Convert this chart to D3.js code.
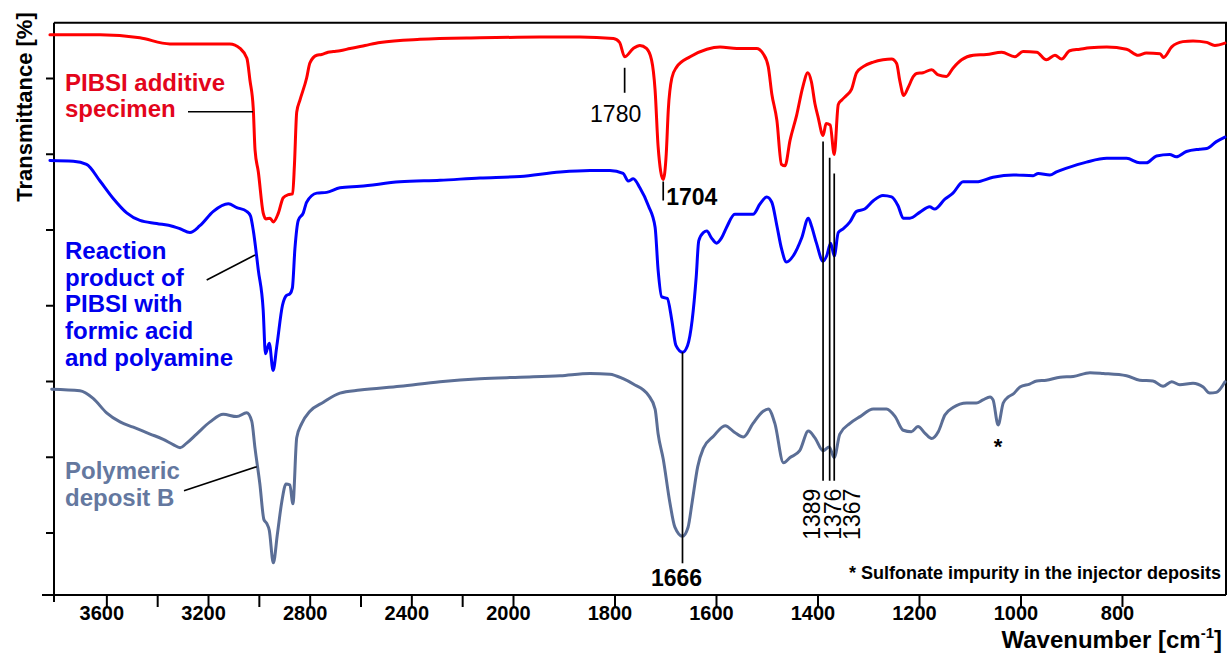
<!DOCTYPE html>
<html>
<head>
<meta charset="utf-8">
<title>FTIR spectra – PIBSI additive, reaction product, polymeric deposit B</title>
<script src="https://cdn.jsdelivr.net/npm/d3@7"></script>
<style>
  html, body { margin: 0; padding: 0; background: #ffffff; }
  svg { display: block; font-family: "Liberation Sans", Arial, Helvetica, sans-serif; }
</style>
</head>
<body>
<svg id="chart" width="1228" height="657"></svg>
<script>
// ---- Spectra: [wavenumber cm-1, transmittance (stacked, offset scale)] ----
const pibsiSpectrum = [
  [3822,65.7],[3625,65.7],[3468,65.3],[3350,64.5],[3232,64.5],[3114,64.5],[3074,63.9],[3047,62.6],
  [3035,59.7],[3022,56.0],[3015,50.5],[3002,47.6],[2983,42.2],[2972,41.4],[2956,41.5],[2943,41.0],
  [2924,42.1],[2904,44.2],[2884,44.6],[2867,44.7],[2860,48.5],[2851,55.5],[2838,57.1],[2812,60.0],
  [2799,62.0],[2772,63.0],[2753,63.1],[2728,63.4],[2707,63.5],[2681,63.6],[2641,63.9],[2582,64.3],
  [2523,64.7],[2366,65.1],[2130,65.3],[1947,65.4],[1868,65.4],[1802,65.2],[1790,64.7],[1780,62.8],
  [1763,63.9],[1750,64.3],[1737,63.9],[1727,62.4],[1720,58.4],[1714,50.9],[1704,46.6],[1698,50.0],
  [1694,55.8],[1687,60.0],[1678,61.4],[1651,62.8],[1618,63.8],[1592,64.1],[1559,63.9],[1520,63.9],
  [1507,63.2],[1497,61.5],[1490,57.9],[1480,54.4],[1471,48.6],[1464,48.4],[1454,51.8],[1441,55.1],
  [1429,58.8],[1419,60.7],[1412,59.5],[1405,56.6],[1399,54.9],[1389,52.4],[1383,54.0],[1375,53.8],
  [1367,49.9],[1359,56.5],[1352,57.1],[1343,57.7],[1333,58.5],[1323,60.7],[1310,61.5],[1290,62.1],
  [1271,62.4],[1254,62.5],[1244,61.9],[1238,59.7],[1230,57.7],[1221,58.8],[1211,60.2],[1205,60.6],
  [1192,60.7],[1175,61.1],[1162,60.4],[1146,60.2],[1133,61.3],[1116,62.4],[1093,63.0],[1067,63.1],
  [1037,63.4],[1011,62.8],[995,63.5],[968,63.4],[949,62.4],[932,63.0],[919,62.5],[903,63.6],
  [883,63.8],[863,64.0],[830,64.1],[791,63.8],[768,63.0],[752,63.3],[725,63.2],[718,62.7],
  [702,64.1],[680,64.8],[660,64.9],[633,64.7],[617,64.3],[597,64.6]
];

const productSpectrum = [
  [3822,49.1],[3730,49.0],[3678,48.6],[3625,46.4],[3573,44.1],[3520,42.2],[3468,41.2],[3402,40.8],
  [3337,40.4],[3310,40.1],[3271,39.6],[3232,40.5],[3179,42.4],[3120,43.4],[3087,42.9],[3048,42.4],
  [3033,41.8],[3022,39.9],[3002,34.6],[2983,29.4],[2974,23.6],[2959,25.0],[2944,21.4],[2929,24.7],
  [2907,30.0],[2891,31.3],[2878,31.5],[2868,32.3],[2858,37.5],[2845,41.2],[2825,42.2],[2812,43.6],
  [2772,44.8],[2733,44.9],[2681,45.5],[2602,45.7],[2445,46.3],[2287,46.5],[2130,46.8],[1986,47.0],
  [1907,47.6],[1848,47.8],[1809,47.8],[1783,47.4],[1773,46.4],[1763,46.7],[1750,45.5],[1733,43.1],
  [1720,40.3],[1714,34.6],[1707,31.1],[1696,30.9],[1687,28.0],[1679,24.7],[1666,23.8],[1656,24.7],
  [1647,28.0],[1639,33.7],[1634,38.5],[1625,39.6],[1618,39.8],[1609,38.9],[1599,38.2],[1589,38.9],
  [1579,40.3],[1563,42.0],[1540,42.0],[1527,42.0],[1513,43.4],[1500,44.3],[1490,43.6],[1480,40.5],
  [1471,37.5],[1461,35.7],[1448,36.5],[1431,38.9],[1418,41.5],[1412,40.5],[1402,38.2],[1389,35.8],
  [1382,36.5],[1374,38.2],[1367,36.5],[1359,39.6],[1349,40.1],[1336,41.0],[1323,42.4],[1307,42.7],
  [1290,43.8],[1271,44.5],[1254,44.3],[1241,43.1],[1231,41.5],[1218,41.5],[1198,42.3],[1179,43.0],
  [1169,42.7],[1149,44.0],[1133,44.8],[1113,46.3],[1087,46.3],[1054,46.9],[1014,47.2],[975,47.1],
  [965,47.4],[942,47.2],[929,47.6],[909,48.1],[870,48.9],[830,49.4],[791,49.4],[765,48.8],
  [752,48.8],[732,49.7],[706,49.9],[693,49.6],[673,50.3],[647,50.6],[633,50.7],[614,51.6],[597,52.2]
];

const depositSpectrum = [
  [3815,18.9],[3704,18.7],[3652,17.7],[3599,15.8],[3546,14.6],[3494,13.9],[3428,13.0],[3376,12.3],
  [3337,11.6],[3310,11.2],[3284,11.8],[3245,13.0],[3192,14.6],[3140,15.6],[3087,15.3],[3048,15.8],
  [3028,14.7],[3015,11.1],[2996,6.4],[2980,1.7],[2969,1.2],[2959,0.3],[2943,-4.0],[2927,-0.2],
  [2910,4.0],[2893,6.4],[2878,6.3],[2866,3.8],[2851,12.5],[2831,14.4],[2799,16.0],[2746,17.2],
  [2681,18.4],[2602,18.8],[2445,19.3],[2287,19.9],[2130,20.3],[1986,20.5],[1907,20.7],[1848,21.0],
  [1809,20.9],[1783,20.3],[1763,19.6],[1733,18.1],[1720,16.3],[1714,13.0],[1704,9.7],[1691,4.0],
  [1681,0.7],[1666,-0.5],[1655,0.7],[1647,4.0],[1636,8.7],[1625,11.1],[1605,12.7],[1582,14.1],
  [1563,13.2],[1546,12.6],[1527,14.4],[1507,16.0],[1497,16.3],[1484,14.4],[1467,9.2],[1454,9.9],
  [1435,10.8],[1418,13.4],[1405,12.5],[1389,10.8],[1377,11.3],[1367,9.9],[1356,13.0],[1336,14.4],
  [1316,15.3],[1290,16.3],[1264,16.3],[1247,15.3],[1231,13.5],[1215,13.3],[1202,14.0],[1188,13.1],
  [1175,12.4],[1162,13.3],[1149,15.5],[1133,16.5],[1106,17.1],[1087,17.1],[1074,17.5],[1060,17.9],
  [1054,17.5],[1044,14.2],[1034,17.1],[1024,17.9],[1014,18.3],[1001,19.2],[982,19.6],[968,20.0],
  [949,20.1],[922,20.5],[896,20.6],[863,21.1],[837,21.0],[791,20.7],[765,20.1],[739,20.0],
  [719,19.3],[702,19.9],[686,19.5],[660,19.7],[640,19.2],[627,18.4],[614,18.5],[597,19.9]
];

// ---- Axis ticks ----
const xTickLabels = [3600, 3200, 2800, 2400, 2000, 1800, 1600, 1400, 1200, 1000, 800];
const xMinorTicks = [3400, 3000, 2600, 2200];
const yTicks = [0, 10, 20, 30, 40, 50, 60];

// ---- Series names and marked bands ----
const pibsiName = ["PIBSI additive", "specimen"];
const productName = ["Reaction", "product of", "PIBSI with", "formic acid", "and polyamine"];
const depositName = ["Polymeric", "deposit B"];
const peakBands = [1780, 1704, 1666, 1389, 1376, 1367];
const impurityBand = 1044;
const footnote = "* Sulfonate impurity in the injector deposits";

// ---- Colours ----
const RED = "#ff0000", BLUE = "#0000ff", SLATE = "#5b6e96";
const RED_TEXT = "#e3051b", BLUE_TEXT = "#0000ee", SLATE_TEXT = "#64789f";
const FONT = '"Liberation Sans", Arial, Helvetica, sans-serif';

// ---- Scales: the wavenumber axis is expanded 2x below 2000 cm-1 ----
const x = d3.scaleLinear().domain([3806, 2000, 595]).range([54, 513, 1226]);
const y = d3.scaleLinear().domain([-8.25, 67.3]).range([595, 22.7]);

const svg = d3.select("#chart");
const plotLeft = x.range()[0], plotRight = x.range()[2];
const plotBottom = y.range()[0], plotTop = y.range()[1];

// linear interpolation of a spectrum at a wavenumber
function valueAt(spec, wn) {
  for (let i = 0; i < spec.length - 1; i++) {
    const a = spec[i], b = spec[i + 1];
    if (wn <= a[0] && wn >= b[0]) {
      const t = (a[0] - wn) / (a[0] - b[0]);
      return a[1] + t * (b[1] - a[1]);
    }
  }
  return spec[spec.length - 1][1];
}

// ---- Frame and axes ----
svg.append("path")
  .attr("d", `M${plotLeft},${plotTop}H${plotRight}V${plotBottom}`)
  .attr("fill", "none").attr("stroke", "#000").attr("stroke-width", 2);
svg.append("line")
  .attr("x1", plotLeft).attr("x2", plotLeft).attr("y1", plotTop).attr("y2", plotBottom + 7)
  .attr("stroke", "#000").attr("stroke-width", 2);
svg.append("line")
  .attr("x1", plotLeft - 12).attr("x2", plotRight).attr("y1", plotBottom).attr("y2", plotBottom)
  .attr("stroke", "#000").attr("stroke-width", 2);

const gx = svg.append("g")
  .attr("transform", `translate(0,${plotBottom})`)
  .call(d3.axisBottom(x).tickValues(xTickLabels).tickSize(12).tickSizeOuter(0).tickFormat(d3.format("d")));
gx.select(".domain").remove();
gx.attr("font-family", FONT).attr("font-size", 20).attr("font-weight", "bold");
gx.selectAll(".tick line").attr("stroke-width", 2);
gx.selectAll(".tick text").attr("y", 25).attr("dy", null).attr("dx", -5).attr("fill", "#000");

const gxMinor = svg.append("g")
  .attr("transform", `translate(0,${plotBottom})`)
  .call(d3.axisBottom(x).tickValues(xMinorTicks).tickSize(12).tickSizeOuter(0).tickFormat(() => ""));
gxMinor.select(".domain").remove();
gxMinor.selectAll(".tick line").attr("stroke-width", 2);

const gy = svg.append("g")
  .attr("transform", `translate(${plotLeft},0)`)
  .call(d3.axisLeft(y).tickValues(yTicks).tickSize(8).tickSizeOuter(0).tickFormat(() => ""));
gy.select(".domain").remove();
gy.selectAll(".tick line").attr("stroke-width", 2);

// axis titles
svg.append("text")
  .attr("transform", `translate(32,107) rotate(-90)`)
  .attr("text-anchor", "middle")
  .attr("font-family", FONT).attr("font-size", 22).attr("font-weight", "bold")
  .text("Transmittance [%]");

const xt = svg.append("text")
  .attr("x", 1222).attr("y", 648)
  .attr("text-anchor", "end")
  .attr("font-family", FONT).attr("font-size", 24).attr("font-weight", "bold");
xt.append("tspan").text("Wavenumber [cm");
xt.append("tspan").attr("font-size", 15).attr("dy", -10).text("-1");
xt.append("tspan").attr("dy", 10).text("]");

// ---- Spectra ----
const line = d3.line()
  .x(d => x(d[0]))
  .y(d => y(d[1]))
  .curve(d3.curveMonotoneX);

[[depositSpectrum, SLATE], [productSpectrum, BLUE], [pibsiSpectrum, RED]].forEach(([spec, col]) => {
  svg.append("path")
    .datum(spec)
    .attr("d", line)
    .attr("fill", "none")
    .attr("stroke", col)
    .attr("stroke-width", 3)
    .attr("stroke-linejoin", "round")
    .attr("stroke-linecap", "round");
});

// ---- Series labels with leader lines ----
function label(lines, x0, y0, step, color) {
  const t = svg.append("text")
    .attr("font-family", FONT).attr("font-size", 24).attr("font-weight", "bold")
    .attr("fill", color);
  lines.forEach((s, i) => t.append("tspan").attr("x", x0).attr("y", y0 + i * step).text(s));
}
label(pibsiName, 65, 90.7, 26.6, RED_TEXT);
label(productName, 65, 259, 26.7, BLUE_TEXT);
label(depositName, 65, 479.3, 26.4, SLATE_TEXT);

const leaders = svg.append("g").attr("stroke", "#000").attr("stroke-width", 1.6);
leaders.append("line").attr("x1", 188).attr("y1", 111.7).attr("x2", 253).attr("y2", 111.7);
leaders.append("line").attr("x1", 206.7).attr("y1", 280).attr("x2", 255).attr("y2", 255);
leaders.append("line").attr("x1", 184).attr("y1", 490.7).attr("x2", 256.7).attr("y2", 466.7);

// ---- Band markers ----
const marks = svg.append("g");
function vline(xp, y1, y2) {
  marks.append("line").attr("x1", xp).attr("x2", xp).attr("y1", y1).attr("y2", y2)
    .attr("stroke", "#000").attr("stroke-width", 1.7);
}
function bandText(txt, xp, yp, opts) {
  const t = marks.append("text")
    .attr("x", xp).attr("y", yp)
    .attr("font-family", FONT).attr("font-size", 23)
    .attr("font-weight", opts.bold ? "bold" : "normal")
    .attr("text-anchor", opts.anchor || "start")
    .attr("fill", "#000")
    .text(txt);
  if (opts.rotate) t.attr("transform", `rotate(-90,${xp},${yp})`);
}

// 1780 (PIBSI)
{
  const wn = peakBands[0], xp = x(wn), yp = y(valueAt(pibsiSpectrum, wn));
  vline(xp, yp + 11, yp + 36);
  bandText(String(wn), xp - 9, yp + 65, { anchor: "middle" });
}
// 1704 (PIBSI)
{
  const wn = peakBands[1], xp = x(wn), yp = y(valueAt(pibsiSpectrum, wn));
  vline(xp, yp + 2, yp + 21);
  bandText(String(wn), xp + 3, yp + 25, { bold: true });
}
// 1666 (reaction product and deposit)
{
  const wn = peakBands[2], xp = x(wn);
  const yTop = y(valueAt(productSpectrum, wn)), yLow = y(valueAt(depositSpectrum, wn));
  vline(xp, yTop, yLow + 27);
  bandText(String(wn), xp - 6, yLow + 50, { anchor: "middle", bold: true });
}
// 1389 / 1376 / 1367 group
{
  const topGap = [6, 33, 19];
  const textShift = [-3, 11, 26];
  const yBase = y(valueAt(depositSpectrum, 1389)) + 30;
  peakBands.slice(3).forEach((wn, i) => {
    const xp = x(wn);
    vline(xp, y(valueAt(pibsiSpectrum, wn)) + topGap[i], yBase);
    bandText(String(wn), xp + textShift[i], yBase + 8, { anchor: "end", rotate: true });
  });
}

// sulfonate impurity marker
svg.append("text")
  .attr("x", x(impurityBand)).attr("y", y(valueAt(depositSpectrum, impurityBand)) + 29)
  .attr("text-anchor", "middle")
  .attr("font-family", FONT).attr("font-size", 22).attr("font-weight", "bold")
  .text("*");

svg.append("text")
  .attr("x", 1221).attr("y", 579)
  .attr("text-anchor", "end")
  .attr("font-family", FONT).attr("font-size", 18).attr("font-weight", "bold")
  .text(footnote);
</script>
</body>
</html>
